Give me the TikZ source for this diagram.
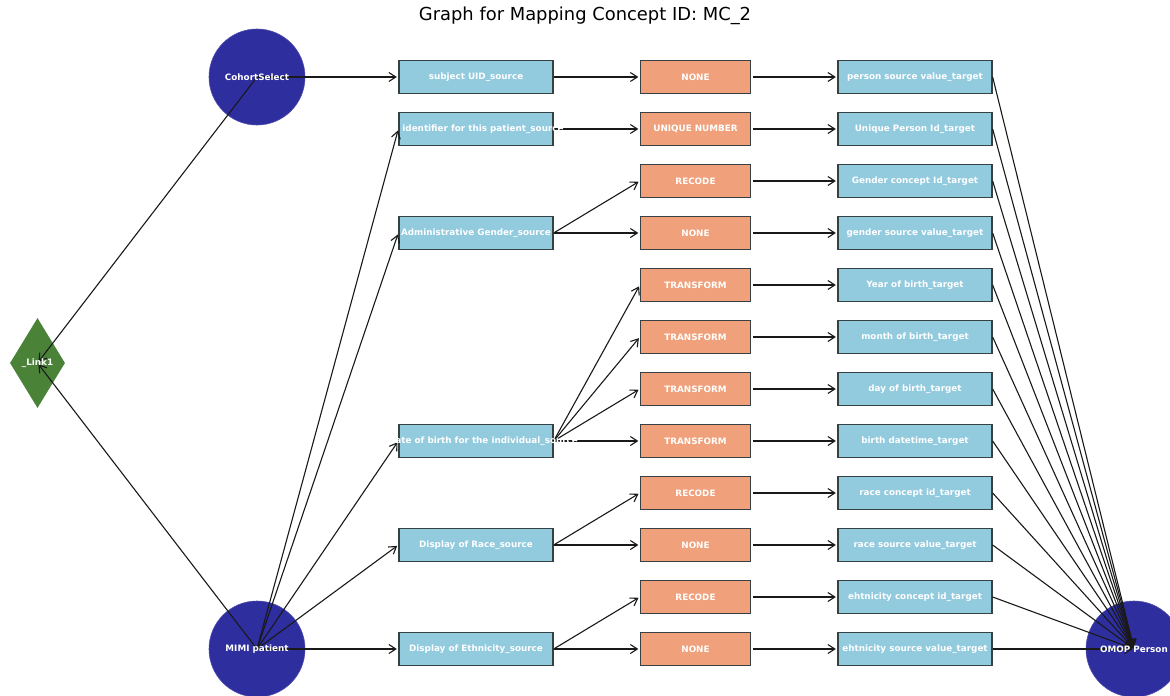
\documentclass[tikz,border=0pt]{standalone}
\usepackage{fontspec}
\setmainfont{DejaVu Sans}
\usetikzlibrary{shapes.geometric,arrows.meta}

\definecolor{hubblue}{RGB}{46,46,158}
\definecolor{linkgreen}{RGB}{74,130,56}
\definecolor{fieldblue}{RGB}{146,202,222}
\definecolor{opsalmon}{RGB}{240,160,122}
\definecolor{boxedge}{RGB}{55,64,66}

\tikzset{
  hubnode/.style={circle, fill=hubblue, draw=hubblue!85!white, line width=0.6pt,
                  minimum size=96pt, inner sep=0pt},
  linknode/.style={diamond, fill=linkgreen, minimum width=55pt, minimum height=90pt,
                   inner sep=0pt},
  fieldbox/.style={rectangle, fill=fieldblue, draw=boxedge, line width=1.3pt,
                   minimum width=154pt, minimum height=33pt, inner sep=0pt},
  opbox/.style={rectangle, fill=opsalmon, draw=boxedge, line width=1.3pt,
                minimum width=110pt, minimum height=33pt, inner sep=0pt},
  lbl/.style={text=white, font=\bfseries\fontsize{8.8}{10}\selectfont, inner sep=0pt},
  conn/.style={draw=black!90, line width=1.1pt,
               -{Straight Barb[length=7pt,width=9pt]}, shorten >=1.5pt},
}

\begin{document}
\begin{tikzpicture}[x=1pt, y=-1pt]
  \useasboundingbox (0,0) rectangle (1170,696);

  % title
  \node (title) at (585,16) {\fontsize{17.9}{21}\selectfont Graph for Mapping Concept ID: MC\_2};

  % shapes (labels are set afterwards, above the connectors)
  \node[hubnode] (cohort) at (257,77) {};
  \node[hubnode] (mimi) at (257,649) {};
  \node[hubnode] (omop) at (1134,649) {};
  \node[linknode] (link) at (37.5,363) {};

  \foreach \n/\y in {1/77, 2/129, 3/233, 4/441, 5/545, 6/649}
    \node[fieldbox] (s\n) at (476,\y) {};

  \foreach \n in {1,...,12}
    \node[opbox] (o\n) at (695.5,{77+52*(\n-1)}) {};

  \foreach \n in {1,...,12}
    \node[fieldbox] (t\n) at (915,{77+52*(\n-1)}) {};

  % connectors
  \draw[conn] (cohort.center) -- (s1.west);
  \draw[conn] (cohort.center) -- (link.center);
  \draw[conn] (mimi.center) -- (link.center);
  \foreach \s in {2,...,6}
    \draw[conn] (mimi.center) -- (s\s.west);

  \foreach \s/\o in {1/1, 2/2, 3/3, 3/4, 4/5, 4/6, 4/7, 4/8, 5/9, 5/10, 6/11, 6/12}
    \draw[conn] (s\s.east) -- (o\o.west);

  \foreach \n in {1,...,12}
    \draw[conn, shorten <=1.5pt] (o\n.east) -- (t\n.west);

  \foreach \n in {1,...,12}
    \draw[conn] (t\n.east) -- (omop.center);

  % labels
  \node[lbl] (cohort-label) at (cohort.center) {CohortSelect};
  \node[lbl] (mimi-label) at (mimi.center) {MIMI patient};
  \node[lbl] (omop-label) at (omop.center) {OMOP Person};
  \node[lbl] (link-label) at (link.center) {\_Link1};

  \foreach \n/\dx/\txt in {1/0/subject UID\_source,
                           2/7/identifier for this patient\_source,
                           3/0/Administrative Gender\_source,
                           4/7/Date of birth for the individual\_source,
                           5/0/Display of Race\_source,
                           6/0/Display of Ethnicity\_source}
    \node[lbl] (s\n-label) at ([xshift=\dx pt]s\n.center) {\txt};

  \foreach \n/\txt in {1/NONE, 2/UNIQUE NUMBER, 3/RECODE, 4/NONE,
                       5/TRANSFORM, 6/TRANSFORM, 7/TRANSFORM, 8/TRANSFORM,
                       9/RECODE, 10/NONE, 11/RECODE, 12/NONE}
    \node[lbl] (o\n-label) at (o\n.center) {\txt};

  \foreach \n/\txt in {1/person source value\_target,
                       2/Unique Person Id\_target,
                       3/Gender concept Id\_target,
                       4/gender source value\_target,
                       5/Year of birth\_target,
                       6/month of birth\_target,
                       7/day of birth\_target,
                       8/birth datetime\_target,
                       9/race concept id\_target,
                       10/race source value\_target,
                       11/ehtnicity concept id\_target,
                       12/ehtnicity source value\_target}
    \node[lbl] (t\n-label) at (t\n.center) {\txt};
\end{tikzpicture}
\end{document}
